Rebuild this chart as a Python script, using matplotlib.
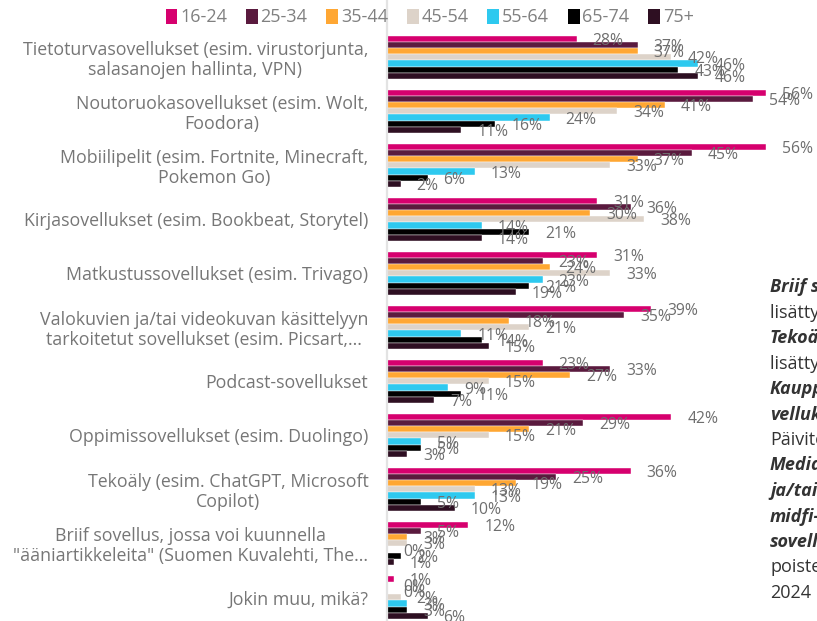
import matplotlib.pyplot as plt
from matplotlib.patches import Patch
import numpy as np

plt.rcParams['font.family'] = ['Open Sans', 'DejaVu Sans']

categories = [
    "Tietoturvasovellukset (esim. virustorjunta,\nsalasanojen hallinta, VPN)",
    "Noutoruokasovellukset (esim. Wolt,\nFoodora)",
    "Mobiilipelit (esim. Fortnite, Minecraft,\nPokemon Go)",
    "Kirjasovellukset (esim. Bookbeat, Storytel)",
    "Matkustussovellukset (esim. Trivago)",
    "Valokuvien ja/tai videokuvan käsittelyyn\ntarkoitetut sovellukset (esim. Picsart,...",
    "Podcast-sovellukset",
    "Oppimissovellukset (esim. Duolingo)",
    "Tekoäly (esim. ChatGPT, Microsoft\nCopilot)",
    "Briif sovellus, jossa voi kuunnella\n\"ääniartikkeleita\" (Suomen Kuvalehti, The...",
    "Jokin muu, mikä?",
]

age_groups = ["16-24", "25-34", "35-44", "45-54", "55-64", "65-74", "75+"]
colors = ["#d6006e", "#5a1a3e", "#ffa733", "#ddd3c9", "#2ec9ef", "#000000", "#2e0f22"]

# one list per age group, same order as categories
v_16_24 = [28, 56, 56, 31, 31, 39, 23, 42, 36, 12, 1]
v_25_34 = [37, 54, 45, 36, 23, 35, 33, 29, 25, 5, 0]
v_35_44 = [37, 41, 37, 30, 24, 18, 27, 21, 19, 3, 0]
v_45_54 = [42, 34, 33, 38, 33, 21, 15, 15, 13, 3, 2]
v_55_64 = [46, 24, 13, 14, 23, 11, 9, 5, 13, 0, 3]
v_65_74 = [43, 16, 6, 21, 21, 14, 11, 5, 5, 2, 3]
v_75 = [46, 11, 2, 14, 19, 15, 7, 3, 10, 1, 6]
series = [v_16_24, v_25_34, v_35_44, v_45_54, v_55_64, v_65_74, v_75]

note_lines = [
    ("Briif sovellus", True), ("lisätty 2024", False),
    ("Tekoäly", True), ("lisätty 2024", False),
    ("Kauppaso-", True), ("vellukset", True),
    ("Päivitetty", False), ("Mediasovellukset", True),
    ("ja/tai", True), ("midfi-", True), ("sovellukset", True),
    ("poistettu", False), ("2024", False),
]

fig = plt.figure(figsize=(8.17, 6.21), dpi=100)
ax = fig.add_axes([387 / 817, 0, 430 / 817, 1])

bar_h = 0.113
y0 = np.arange(len(categories))
for j, (vals, col) in enumerate(zip(series, colors)):
    ys = y0 + (j - 3) * bar_h
    ax.barh(ys, vals, height=bar_h, color=col, edgecolor="white", linewidth=0.3)
    for y, v in zip(ys, vals):
        ax.annotate(f"{v}%", (v, y), xytext=(11.5, -1.5), textcoords="offset points",
                    ha="left", va="center", fontsize=11.3, color="#6e6e6e")

ax.set_xlim(0, 63.5)
ax.set_ylim(10.437, -1.063)
ax.set_yticks(y0)
ax.set_yticklabels(categories, multialignment="center", fontsize=12.8,
                   color="#767676", linespacing=1.12)
ax.tick_params(axis="y", length=0, pad=13.5)
ax.set_xticks([])
for s in ["top", "right", "bottom"]:
    ax.spines[s].set_visible(False)
ax.spines["left"].set_color("#e3e3e3")
ax.spines["left"].set_linewidth(1.6)

handles = [Patch(facecolor=c, label=a) for a, c in zip(age_groups, colors)]
fig.legend(handles=handles, loc="center", bbox_to_anchor=(0.526, 0.972), ncol=7,
           frameon=False, handlelength=0.65, handleheight=0.9, handletextpad=0.15,
           columnspacing=1.05, fontsize=13, labelcolor="#808080")

for k, (txt, bold) in enumerate(note_lines):
    fig.text(770 / 817, 1 - (287 + 25.5 * k) / 621, txt, ha="left", va="center",
             fontsize=13, color="#333333",
             fontweight="bold" if bold else "normal",
             fontstyle="italic" if bold else "normal")

fig.savefig("out.png", dpi=100)
